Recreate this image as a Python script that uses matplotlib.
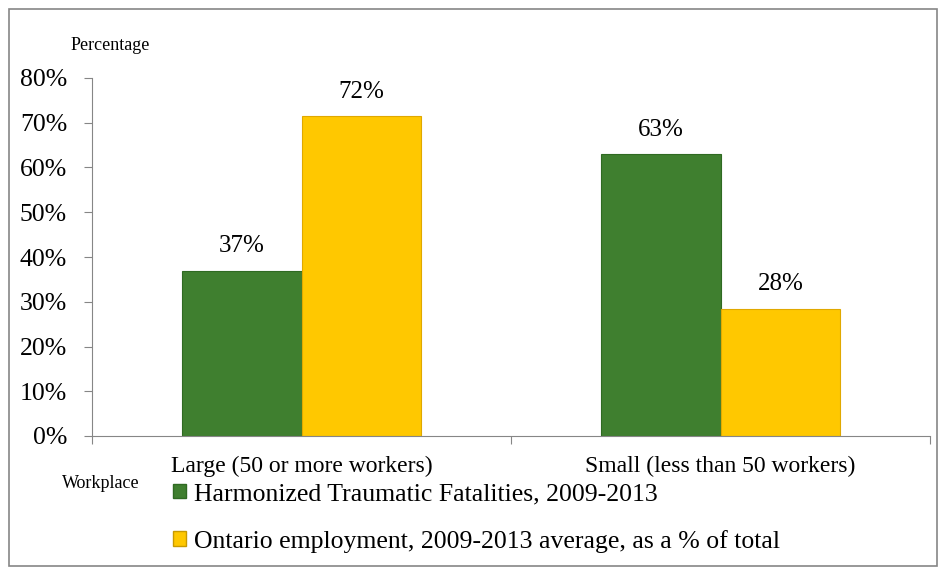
import matplotlib.pyplot as plt
import matplotlib.patches as mpatches
import numpy as np

plt.rcParams['font.family'] = ['Liberation Serif', 'DejaVu Serif']

categories = ['Large (50 or more workers)', 'Small (less than 50 workers)']
series_names = ['Harmonized Traumatic Fatalities, 2009-2013',
                'Ontario employment, 2009-2013 average, as a % of total']
fatalities = [36.9, 63.0]
employment = [71.5, 28.4]
value_labels = [['37%', '63%'], ['72%', '28%']]

green = '#3f7f2f'
yellow = '#ffc800'

fig = plt.figure(figsize=(9.4, 5.69), dpi=100)
ax = fig.add_axes([92 / 940, 133 / 569, 838 / 940, 358 / 569])

x = np.arange(len(categories))
w = 0.286
b1 = ax.bar(x - w / 2, fatalities, w, color=green, edgecolor='#2f6a22', linewidth=0.8)
b2 = ax.bar(x + w / 2, employment, w, color=yellow, edgecolor='#e0a800', linewidth=0.8)

# labels on top of bars
for bars, labels in zip([b1, b2], value_labels):
    for rect, lab in zip(bars, labels):
        ax.text(rect.get_x() + rect.get_width() / 2, rect.get_height() + 3.0, lab,
                ha='center', va='bottom', fontsize=18)

ax.set_xlim(-0.5, 1.5)
ax.set_ylim(0, 80)
ax.set_yticks(range(0, 81, 10))
ax.set_yticklabels([f'{v}%' for v in range(0, 81, 10)], fontsize=18.5)

ax.set_xticks([-0.5, 0.5, 1.5])
ax.set_xticklabels([])
ax.set_xticks(x, minor=True)
ax.set_xticklabels(categories, minor=True, fontsize=17)
ax.tick_params(axis='x', which='minor', length=0, pad=14)
ax.tick_params(axis='x', which='major', length=6, color='#868686')
ax.tick_params(axis='y', length=6, color='#868686', pad=12)

for s in ['top', 'right']:
    ax.spines[s].set_visible(False)
for s in ['left', 'bottom']:
    ax.spines[s].set_color('#868686')

fig.text(110 / 940, 1 - 46 / 569, 'Percentage', fontsize=13, va='center', ha='center')
fig.text(62 / 940, 1 - 483 / 569, 'Workplace', fontsize=13, va='center')

handles = [mpatches.Patch(facecolor=green, edgecolor='#2f6a22'),
           mpatches.Patch(facecolor=yellow, edgecolor='#c89a00')]
fig.legend(handles, series_names, loc='upper left', bbox_to_anchor=(163 / 940, 1 - 473 / 569),
           frameon=False, fontsize=18.5, handlelength=0.5, handleheight=0.5,
           handletextpad=0.3, labelspacing=0.95, borderaxespad=0)

# outer border
fig.patches.append(mpatches.Rectangle((9 / 940, 3 / 569), 928 / 940, 557 / 569,
                                      transform=fig.transFigure, fill=False,
                                      edgecolor='#868686', linewidth=1.2))

plt.savefig('out.png', dpi=100)
